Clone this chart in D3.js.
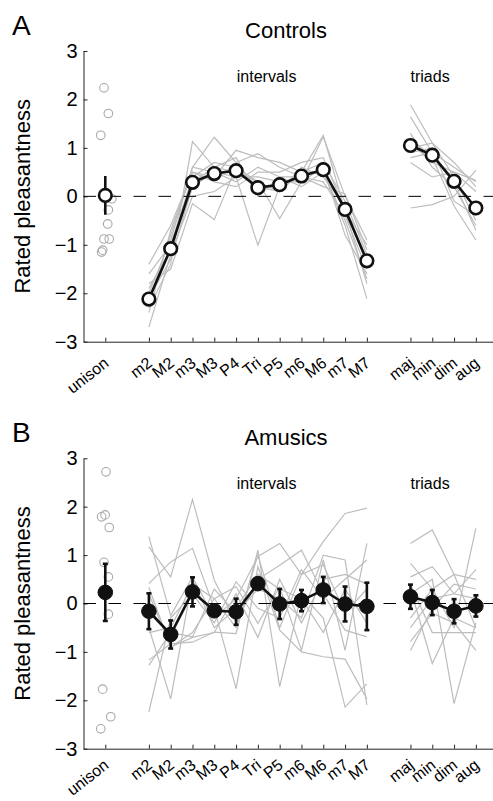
<!DOCTYPE html>
<html><head><meta charset="utf-8">
<script src="https://cdn.jsdelivr.net/npm/d3@7"></script>
<style>
body{margin:0;background:#fff}
text{font-family:"Liberation Sans",Arial,Helvetica,sans-serif;fill:#000}
</style>
</head><body>
<svg id="chart" width="493" height="801"></svg>
<script>
// ---------- categories / ticks ----------
const unisonLabels = ["unison"];
const intervalLabels = ["m2","M2","m3","M3","P4","Tri","P5","m6","M6","m7","M7"];
const triadLabels = ["maj","min","dim","aug"];
const yTickValues = [3,2,1,0,-1,-2,-3];

// ---------- Controls (panel A) ----------
const ctrlUnisonMean = [0.02];
const ctrlUnisonErr = [0.40];
const ctrlIntervalMean = [-2.12,-1.08,0.29,0.47,0.53,0.18,0.24,0.42,0.55,-0.27,-1.33];
const ctrlIntervalErr  = [0.06,0.06,0.12,0.08,0.06,0.10,0.06,0.06,0.06,0.12,0.13];
const ctrlTriadMean = [1.05,0.85,0.31,-0.24];
const ctrlTriadErr  = [0.12,0.08,0.08,0.10];
const ctrlUnisonIndiv  = [2.24,1.71,1.26,-0.05,-0.28,-0.57,-0.88,-0.88,-1.11,-1.15];
const ctrlUnisonJitter = [-0.06,0.14,-0.21,0.30,0.14,0.11,-0.06,0.18,-0.12,-0.17];
const ctrlIntervalSubjects = [
  [-2.30,-1.40,1.13,0.60,0.50,0.30,0.10,0.50,0.70,-0.10,-1.20],
  [-2.00,-0.90,0.60,1.22,0.70,0.88,0.60,0.40,0.30,-0.40,-1.50],
  [-1.40,-0.60,0.50,0.40,0.95,0.80,0.70,0.50,0.50,-0.50,-1.70],
  [-2.70,-1.20,0.00,0.10,0.40,-1.01,0.20,0.50,1.26,-0.30,-1.00],
  [-1.80,-1.50,-0.15,-0.48,0.60,0.30,-0.46,0.30,1.23,0.00,-0.90],
  [-2.20,-0.80,0.60,0.50,0.30,0.60,0.40,0.20,0.50,-0.60,-2.11],
  [-1.60,-1.00,0.40,0.70,0.60,0.20,0.10,0.60,0.40,-0.20,-1.40],
  [-2.10,-1.30,0.20,0.50,0.40,0.40,0.30,0.30,0.60,-0.80,-1.60],
  [-1.90,-1.10,0.30,0.60,0.80,0.00,0.40,0.40,0.20,0.05,-1.10],
  [-2.40,-0.70,0.50,0.30,0.20,0.50,0.50,0.70,0.80,-0.30,-1.80]
];
const ctrlTriadSubjects = [
  [1.89,1.10,0.40,-0.50],
  [1.64,0.90,0.60,0.30],
  [-0.24,-0.17,0.00,0.54],
  [1.00,1.10,0.70,0.20],
  [1.20,0.80,-0.20,-0.90],
  [0.80,0.90,0.30,-0.70],
  [1.10,0.70,0.50,0.33],
  [0.90,1.00,-0.10,-0.40],
  [1.30,0.60,0.20,-0.60],
  [0.70,0.40,0.50,0.10]
];

// ---------- Amusics (panel B) ----------
const amuUnisonMean = [0.23];
const amuUnisonErr = [0.59];
const amuIntervalMean = [-0.16,-0.64,0.24,-0.15,-0.17,0.41,-0.01,0.06,0.28,-0.01,-0.06];
const amuIntervalErr  = [0.37,0.29,0.30,0.06,0.27,0.07,0.31,0.22,0.27,0.36,0.49];
const amuTriadMean = [0.14,0.02,-0.16,-0.05];
const amuTriadErr  = [0.25,0.26,0.25,0.22];
const amuUnisonIndiv  = [2.72,1.79,1.83,1.57,0.85,0.55,-0.22,-1.77,-2.34,-2.59];
const amuUnisonJitter = [0.03,-0.17,-0.01,0.18,-0.06,0.14,0.14,-0.12,0.25,-0.21];
const amuIntervalSubjects = [
  [1.38,-0.25,0.55,-0.30,0.10,0.97,1.24,0.60,1.28,1.86,1.97],
  [1.17,0.55,2.15,0.48,-0.40,0.50,0.79,1.10,0.20,-0.55,-0.69],
  [0.41,0.86,1.14,-0.10,-1.76,0.76,-0.55,-1.00,-1.10,-1.15,-1.97],
  [0.33,-0.90,-0.60,0.10,0.35,-0.41,0.34,-0.97,0.90,-0.97,1.24],
  [-1.17,-0.83,-0.80,-0.59,-0.62,1.10,-1.72,0.20,-0.30,-2.14,-1.66],
  [-1.28,-0.60,-0.69,0.30,-0.20,0.30,0.10,-0.30,1.00,0.90,-2.10],
  [-2.24,-0.30,0.20,-0.40,0.45,-0.10,-0.30,0.70,0.10,0.50,0.90],
  [-0.50,-1.97,0.50,-0.50,-0.10,0.60,0.30,0.10,-0.60,0.30,-0.40],
  [0.20,-0.90,-0.70,-0.60,0.20,-0.70,0.50,-0.40,0.50,0.60,0.40],
  [-0.60,-0.50,0.40,0.10,-0.50,1.00,-0.50,0.60,0.80,-0.20,0.30]
];
const amuTriadSubjects = [
  [1.24,1.52,0.60,-0.50],
  [0.83,0.30,-0.50,1.55],
  [0.55,0.76,0.20,0.10],
  [-0.79,-0.20,-0.40,-0.97],
  [-0.97,-0.10,0.40,0.30],
  [0.30,-1.24,-0.30,-0.50],
  [0.20,0.50,-2.07,-0.40],
  [-0.30,0.30,0.60,0.50],
  [0.40,-0.60,-0.60,-0.60],
  [-0.50,0.10,0.20,0.70]
];

// ---------- layout ----------
const svg = d3.select("#chart");
const unisonPos = [0];
const intervalPos = intervalLabels.map((d,i)=>2+i);
const triadPos = triadLabels.map((d,i)=>14+i);
const allPos = unisonPos.concat(intervalPos, triadPos);
const allLabels = unisonLabels.concat(intervalLabels, triadLabels);

const x = d3.scaleLinear().domain([-1, 17.8]).range([83.5, 493.3]);

function panel(cfg){
  const y = d3.scaleLinear().domain([-3,3]).range(cfg.yRange);
  const g = svg.append("g");
  const y0 = y(-3);

  // axes
  const ya = d3.axisLeft(y).tickValues(yTickValues).tickSizeInner(-4).tickSizeOuter(0).tickPadding(6)
    .tickFormat(d => d < 0 ? "\u2212" + Math.abs(d) : String(d));
  const yg = g.append("g").attr("transform", `translate(${x(-1)},0)`).call(ya);
  yg.attr("font-family",null).attr("font-size",null);
  yg.selectAll("text").style("font-size","20px");
  yg.selectAll("line,path").attr("stroke","#222");

  const xa = d3.axisBottom(x).tickValues(allPos).tickSizeInner(-4).tickSizeOuter(0)
    .tickFormat(() => "");
  const xg = g.append("g").attr("transform", `translate(0,${y0})`).call(xa);
  xg.selectAll("line,path").attr("stroke","#222");
  g.selectAll(".domain").attr("stroke-width",1);

  // rotated category labels
  g.append("g").selectAll("text").data(allLabels).join("text")
    .attr("transform",(d,i)=>`translate(${x(allPos[i])+1},${y0+cfg.labelOff}) rotate(-38)`)
    .attr("text-anchor","end").attr("dy","0.35em")
    .style("font-size","16px").text(d=>d);

  // individual subject lines
  const line = d3.line().x(d=>x(d[0])).y(d=>y(d[1]));
  const grey = g.append("g").attr("fill","none").attr("stroke","#bdbdbd").attr("stroke-width",1.2);
  cfg.intSubj.forEach(s => grey.append("path").attr("d", line(s.map((v,i)=>[intervalPos[i],v]))));
  cfg.triSubj.forEach(s => grey.append("path").attr("d", line(s.map((v,i)=>[triadPos[i],v]))));

  // unison individual circles
  g.append("g").selectAll("circle").data(cfg.uniIndiv).join("circle")
    .attr("cx",(d,i)=>x(unisonPos[0]+cfg.uniJit[i])).attr("cy",d=>y(d)).attr("r",4.3)
    .attr("fill","none").attr("stroke","#a8a8a8").attr("stroke-width",1.1);

  // zero line
  g.append("line").attr("x1",x(-1)).attr("x2",493).attr("y1",y(0)).attr("y2",y(0))
    .attr("stroke","#000").attr("stroke-width",1).attr("stroke-dasharray","12.5,12.5");

  // mean lines
  const mg = g.append("g").attr("fill","none").attr("stroke","#111").attr("stroke-width",2.6);
  mg.append("path").attr("d", line(cfg.intMean.map((v,i)=>[intervalPos[i],v])));
  mg.append("path").attr("d", line(cfg.triMean.map((v,i)=>[triadPos[i],v])));

  const pts = [];
  cfg.uniMean.forEach((v,i)=>pts.push({p:unisonPos[i],m:v,e:cfg.uniErr[i]}));
  cfg.intMean.forEach((v,i)=>pts.push({p:intervalPos[i],m:v,e:cfg.intErr[i]}));
  cfg.triMean.forEach((v,i)=>pts.push({p:triadPos[i],m:v,e:cfg.triErr[i]}));

  // error bars
  const eb = g.append("g").attr("stroke","#111").attr("stroke-width",2.6);
  pts.forEach(d=>{
    eb.append("line").attr("x1",x(d.p)).attr("x2",x(d.p)).attr("y1",y(d.m+d.e)).attr("y2",y(d.m-d.e));
    if(cfg.caps){
      [d.m+d.e,d.m-d.e].forEach(v=>eb.append("line").attr("x1",x(d.p)-2.5).attr("x2",x(d.p)+2.5)
        .attr("y1",y(v)).attr("y2",y(v)));
    }
  });

  // mean markers
  g.append("g").selectAll("circle").data(pts).join("circle")
    .attr("cx",d=>x(d.p)).attr("cy",d=>y(d.m)).attr("r",cfg.filled?7.3:6.3)
    .attr("fill",cfg.filled?"#111":"#fff").attr("stroke","#111").attr("stroke-width",cfg.filled?1:2.6);

  // texts
  g.append("text").attr("x",12).attr("y",cfg.letterY).style("font-size","28px").text(cfg.letter);
  g.append("text").attr("x",286).attr("y",y(3)-13).attr("text-anchor","middle").style("font-size","22px").text(cfg.title);
  g.append("text").attr("x",x(7.4)).attr("y",y(3)+31).attr("text-anchor","middle").style("font-size","16px").text("intervals");
  g.append("text").attr("x",x(14.9)).attr("y",y(3)+31).attr("text-anchor","middle").style("font-size","16px").text("triads");
  g.append("text").attr("transform",`translate(30,${(y(3)+y(-3))/2}) rotate(-90)`)
    .attr("text-anchor","middle").style("font-size","22px").text("Rated pleasantness");
}

panel({yRange:[341.7,51], letter:"A", letterY:35, title:"Controls", filled:false, caps:false, labelOff:19,
  uniMean:ctrlUnisonMean, uniErr:ctrlUnisonErr, intMean:ctrlIntervalMean, intErr:ctrlIntervalErr,
  triMean:ctrlTriadMean, triErr:ctrlTriadErr, uniIndiv:ctrlUnisonIndiv, uniJit:ctrlUnisonJitter,
  intSubj:ctrlIntervalSubjects, triSubj:ctrlTriadSubjects});
panel({yRange:[748.7,458.3], letter:"B", letterY:442, title:"Amusics", filled:true, caps:true, labelOff:14,
  uniMean:amuUnisonMean, uniErr:amuUnisonErr, intMean:amuIntervalMean, intErr:amuIntervalErr,
  triMean:amuTriadMean, triErr:amuTriadErr, uniIndiv:amuUnisonIndiv, uniJit:amuUnisonJitter,
  intSubj:amuIntervalSubjects, triSubj:amuTriadSubjects});
</script>
</body></html>
